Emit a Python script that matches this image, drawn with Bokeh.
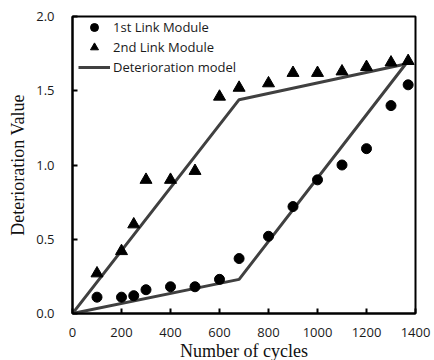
from bokeh.plotting import figure
from bokeh.models import Legend, LegendItem, FixedTicker, NumeralTickFormatter, Range1d
from bokeh.embed import file_html
from bokeh.resources import INLINE

# Data
cycles_1st = [100, 200, 250, 300, 400, 500, 600, 680, 800, 900, 1000, 1100, 1200, 1300, 1370]
values_1st = [0.11, 0.11, 0.12, 0.16, 0.18, 0.18, 0.23, 0.37, 0.52, 0.72, 0.90, 1.00, 1.11, 1.40, 1.54]

cycles_2nd = [100, 200, 250, 300, 400, 500, 600, 680, 800, 900, 1000, 1100, 1200, 1300, 1370]
values_2nd = [0.27, 0.42, 0.60, 0.90, 0.90, 0.96, 1.46, 1.52, 1.55, 1.62, 1.62, 1.63, 1.66, 1.69, 1.70]

model_x = [0, 680, 1360]
model_1st = [0, 0.23, 1.68]
model_2nd = [0, 1.44, 1.68]

x_ticks = [0, 200, 400, 600, 800, 1000, 1200, 1400]
y_ticks = [0.0, 0.5, 1.0, 1.5, 2.0]

p = figure(frame_width=343, frame_height=297, output_backend="svg", toolbar_location=None,
           x_range=Range1d(0, 1400), y_range=Range1d(0, 2.0),
           min_border_left=72, min_border_right=19, min_border_top=16, min_border_bottom=44)

p.background_fill_color = "white"
p.border_fill_color = "white"
p.outline_line_color = "black"
p.outline_line_width = 2
p.xgrid.visible = False
p.ygrid.visible = False

line_color = "#404040"
r_m1 = p.line(model_x, model_1st, line_color=line_color, line_width=3)
r_m2 = p.line(model_x, model_2nd, line_color=line_color, line_width=3)
r1 = p.scatter(cycles_1st, values_1st, marker="circle", size=10, fill_color="black", line_color="black")
r2 = p.scatter(cycles_2nd, values_2nd, marker="triangle", size=12, fill_color="black", line_color="black")

for ax in (p.xaxis[0], p.yaxis[0]):
    ax.axis_line_color = "black"
    ax.axis_line_width = 2
    ax.major_tick_line_color = "black"
    ax.major_tick_line_width = 2
    ax.major_tick_in = 5
    ax.major_tick_out = 0
    ax.minor_tick_line_color = None
    ax.major_label_text_font = "Open Sans"
    ax.major_label_text_font_size = "13px"
    ax.major_label_text_color = "#1a1a1a"
    ax.axis_label_text_font = "Liberation Serif"
    ax.axis_label_text_font_size = "18px"
    ax.axis_label_text_font_style = "normal"
    ax.axis_label_text_color = "#111111"

p.xaxis[0].ticker = FixedTicker(ticks=x_ticks)
p.yaxis[0].ticker = FixedTicker(ticks=y_ticks)
p.yaxis[0].formatter = NumeralTickFormatter(format="0.0")
p.xaxis[0].major_label_standoff = 14
p.yaxis[0].major_label_standoff = 18
p.xaxis[0].axis_label = "Number of cycles"
p.yaxis[0].axis_label = "Deterioration Value"
p.xaxis[0].axis_label_standoff = 1
p.yaxis[0].axis_label_standoff = 5

legend = Legend(items=[
    LegendItem(label="1st Link Module", renderers=[r1]),
    LegendItem(label="2nd Link Module", renderers=[r2]),
    LegendItem(label="Deterioration model", renderers=[r_m1]),
], location=(6, 236))
legend.background_fill_alpha = 0
legend.border_line_color = None
legend.padding = 0
legend.margin = 0
legend.spacing = 0
legend.label_height = 20
legend.glyph_height = 20
legend.glyph_width = 32
legend.label_standoff = 3
legend.label_text_font = "Open Sans"
legend.label_text_font_size = "13px"
legend.label_text_color = "#1a1a1a"
p.add_layout(legend, "center")

open("out.html", "w").write(file_html(p, INLINE))
